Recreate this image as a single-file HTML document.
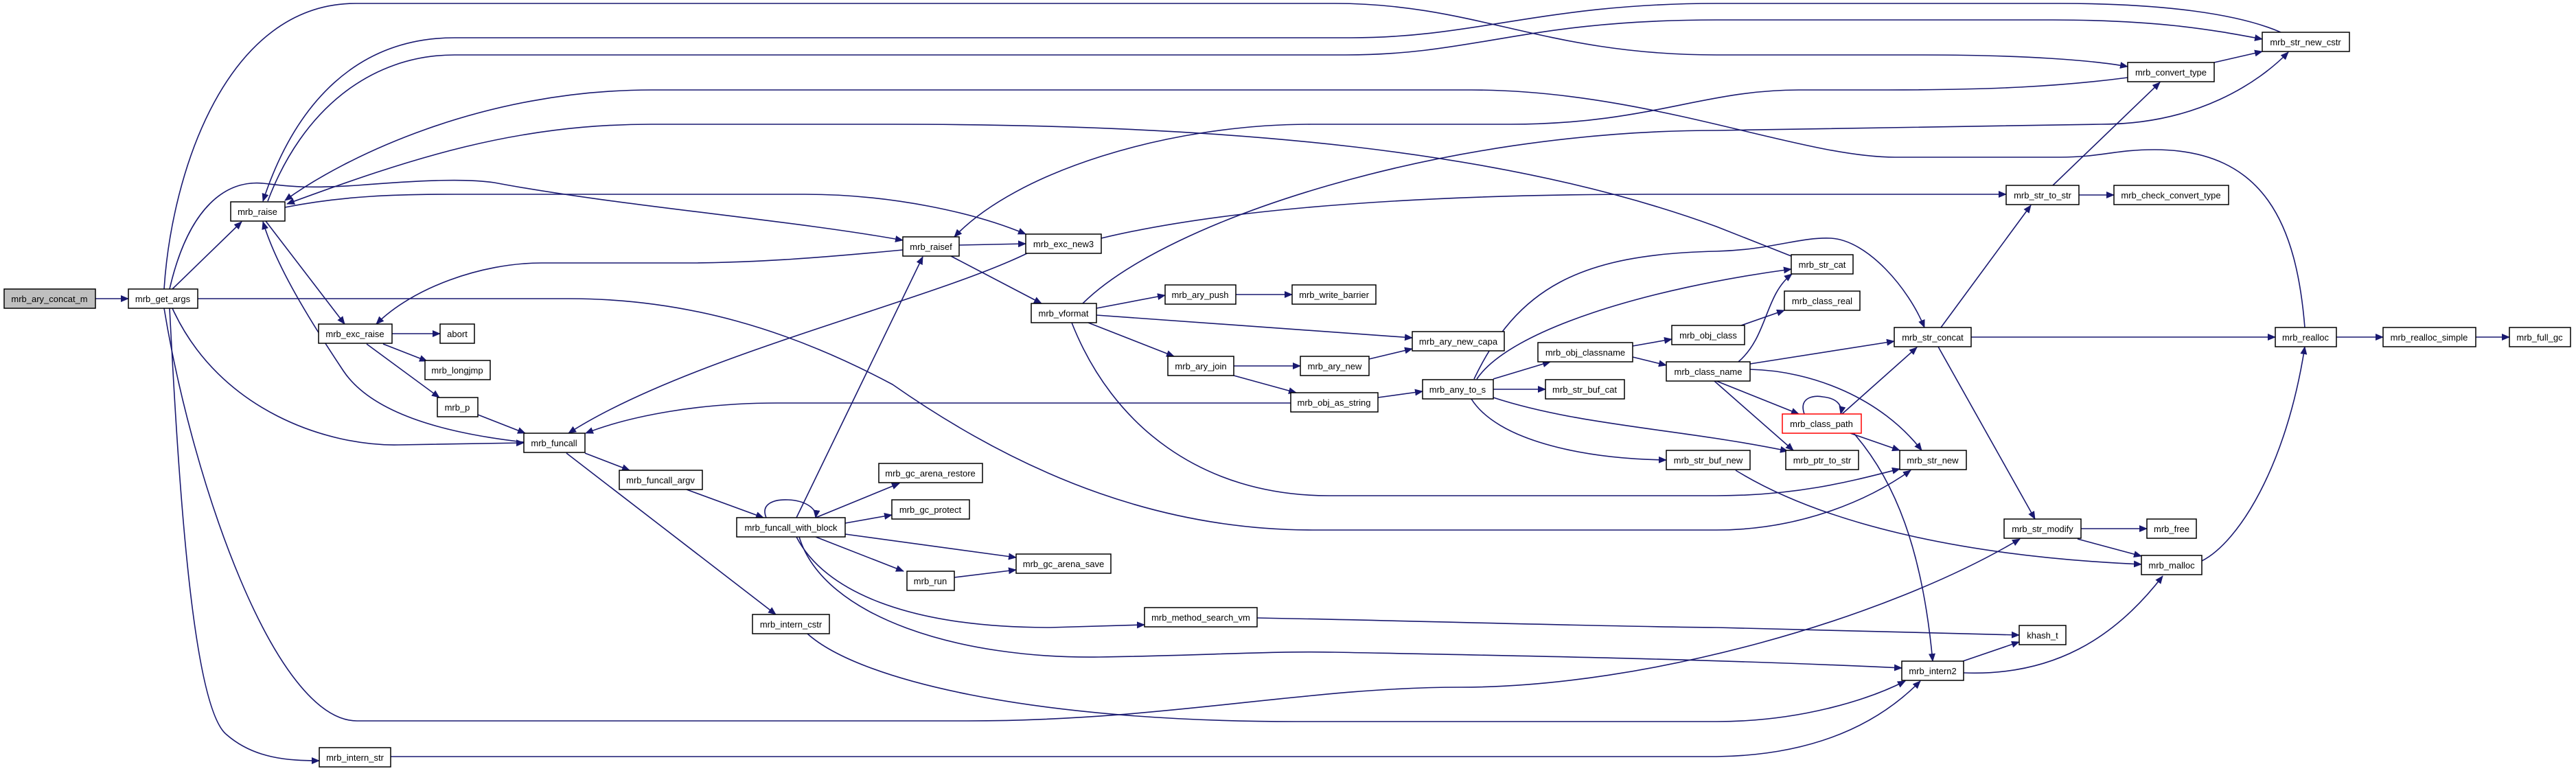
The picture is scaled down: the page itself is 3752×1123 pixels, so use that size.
<!DOCTYPE html>
<html><head><meta charset="utf-8"><style>
html,body{margin:0;padding:0;background:#fff}
svg{display:block}
text{font-family:"Liberation Sans",Arial,sans-serif;font-size:13px;fill:#000}
</style></head><body>
<svg width="3752" height="1123" viewBox="0 0 3752 1123" xmlns="http://www.w3.org/2000/svg">
<defs>
<marker id="a" markerWidth="12" markerHeight="10" refX="11" refY="5" orient="auto" markerUnits="userSpaceOnUse">
<path d="M0,0 L12,5 L0,10 Z" fill="#191970"/>
</marker>
</defs>
<g fill="none" stroke="#191970" stroke-width="1.6" marker-end="url(#a)">
<path d="M139,435 L187,435"/>
<path d="M251,421 L352,323"/>
<path d="M239,421 C250,250 330,5 518,5 L1944,5 C2150,5 2250,80 2500,80 L2800,80 C2950,80 3050,88 3099,97"/>
<path d="M3322,47 C3260,20 3150,5 3000,5 L2500,5 C2250,5 2150,55 1968,55 L662,55 C520,55 430,150 383,293"/>
<path d="M390,293 C440,160 540,80 662,80 L1960,80 C2150,80 2220,29 2500,29 L2990,29 C3150,29 3230,45 3295,57"/>
<path d="M3357,477 C3345,330 3300,218 3138,218 C3080,218 3060,229 3000,229 L2760,229 C2620,229 2400,131 2143,131 L949,131 C700,131 500,230 415,292"/>
<path d="M3099,113 C3000,126 2900,131 2750,131 L2620,131 C2480,131 2400,181 2200,181 L1910,181 C1700,181 1480,250 1390,345"/>
<path d="M2609,373 L2500,330 C2200,220 1800,181 1300,181 L949,181 C750,181 600,230 418,297"/>
<path d="M415,302 C500,285 580,283 662,283 L1172,283 C1300,283 1420,310 1494,341"/>
<path d="M247,421 C275,300 330,262 383,267 C420,271 440,275 520,270 C620,262 680,260 720,266 C900,300 1150,320 1315,350"/>
<path d="M1315,364 C1200,375 1100,383 996,383 L789,383 C700,383 600,420 548,472"/>
<path d="M1496,369 C1350,440 1000,520 828,631"/>
<path d="M1160,754 L1344,374"/>
<path d="M1385,373 L1517,442"/>
<path d="M1397,357 L1494,355"/>
<path d="M1604,347 C1800,300 2100,283 2400,283 L2922,283"/>
<path d="M1577,442 C1700,320 2100,190 2500,190 L3060,181 C3200,181 3290,120 3333,76"/>
<path d="M1597,449 L1697,430"/>
<path d="M1597,459 L2057,492"/>
<path d="M1585,470 L1710,519"/>
<path d="M1561,470 C1620,620 1750,722 1936,722 L2500,722 C2620,722 2700,700 2767,683"/>
<path d="M1800,429 L1882,429"/>
<path d="M1797,533 L1894,533"/>
<path d="M1994,523 L2057,508"/>
<path d="M1797,547 L1888,572"/>
<path d="M1880,587 L1132,587 C1020,587 920,605 853,631"/>
<path d="M2007,579 L2072,570"/>
<path d="M2175,552 L2258,527"/>
<path d="M2175,567 L2251,567"/>
<path d="M2143,581 C2180,640 2300,668 2427,670"/>
<path d="M2175,579 C2300,620 2450,625 2604,657"/>
<path d="M2151,552 C2200,480 2400,420 2609,392"/>
<path d="M2147,552 C2210,420 2300,370 2500,366 C2580,364 2620,345 2667,347 C2720,350 2780,420 2803,477"/>
<path d="M2378,504 L2435,494"/>
<path d="M2378,520 L2427,532"/>
<path d="M2536,474 L2599,452"/>
<path d="M2532,527 C2575,490 2570,430 2610,399"/>
<path d="M2549,530 L2759,497"/>
<path d="M2549,538 C2640,540 2740,580 2799,656"/>
<path d="M2500,555 L2620,603"/>
<path d="M2497,555 L2612,656"/>
<path d="M2683,603 L2792,506"/>
<path d="M2628,603 C2620,580 2640,575 2655,578 C2675,580 2684,590 2681,603"/>
<path d="M2695,631 L2767,656"/>
<path d="M2700,631 C2760,700 2800,800 2815,963"/>
<path d="M2827,477 L2958,299"/>
<path d="M2871,491 L3314,491"/>
<path d="M2823,505 L2964,756"/>
<path d="M2990,270 L3146,120"/>
<path d="M3028,284 L3079,284"/>
<path d="M3225,91 L3295,75"/>
<path d="M3403,491 L3471,491"/>
<path d="M3606,491 L3655,491"/>
<path d="M3207,817 C3260,790 3330,680 3357,505"/>
<path d="M3031,770 L3127,770"/>
<path d="M3026,785 L3119,810"/>
<path d="M2528,685 C2650,760 2850,810 3119,822"/>
<path d="M2859,963 L2941,935"/>
<path d="M2860,980 C2990,985 3080,930 3150,839"/>
<path d="M1831,900 C2100,905 2300,912 2500,914 L2941,925"/>
<path d="M1160,782 C1200,860 1320,914 1529,914 L1667,910"/>
<path d="M1164,782 C1200,900 1400,960 1601,957 C1750,955 1850,948 1944,950 C2200,955 2500,960 2770,973"/>
<path d="M1188,782 L1316,832"/>
<path d="M1231,778 L1480,812"/>
<path d="M1231,762 L1299,750"/>
<path d="M1188,754 L1310,704"/>
<path d="M1116,754 C1108,735 1125,727 1148,728 C1172,729 1190,740 1188,754"/>
<path d="M1390,841 L1480,830"/>
<path d="M1176,923 C1250,990 1500,1051 1888,1051 L2500,1051 C2620,1051 2720,1020 2775,992"/>
<path d="M239,449 C280,700 400,1050 520,1050 L1409,1050 C1700,1050 1900,1001 2127,1001 C2400,1001 2750,900 2942,785"/>
<path d="M247,449 C260,700 280,1030 330,1070 C370,1105 420,1108 465,1108"/>
<path d="M569,1102 L2500,1102 C2650,1100 2740,1050 2797,992"/>
<path d="M251,449 C320,600 480,650 580,648 L763,645"/>
<path d="M763,644 C640,630 540,600 500,540 C440,450 400,380 383,323"/>
<path d="M288,435 L829,435 C1000,435 1150,480 1300,560 C1500,700 1700,772 1912,772 L2500,772 C2620,772 2720,730 2783,685"/>
<path d="M387,322 L502,472"/>
<path d="M571,486 L641,486"/>
<path d="M558,501 L622,526"/>
<path d="M534,501 L640,579"/>
<path d="M696,604 L765,631"/>
<path d="M852,660 L917,685"/>
<path d="M825,660 L1130,895"/>
<path d="M1000,713 L1112,754"/>
</g>
<g stroke="#000" stroke-width="1.5" fill="#fff">
<rect x="6" y="421" width="133" height="28" fill="#bfbfbf"/>
<rect x="187" y="421" width="101" height="28"/>
<rect x="336" y="294" width="79" height="28"/>
<rect x="464" y="472" width="107" height="28"/>
<rect x="641" y="472" width="50" height="28"/>
<rect x="619" y="525" width="95" height="28"/>
<rect x="637" y="579" width="59" height="28"/>
<rect x="763" y="631" width="89" height="28"/>
<rect x="902" y="685" width="121" height="28"/>
<rect x="1073" y="754" width="158" height="28"/>
<rect x="1096" y="895" width="112" height="28"/>
<rect x="465" y="1089" width="104" height="28"/>
<rect x="1315" y="345" width="82" height="28"/>
<rect x="1494" y="341" width="110" height="28"/>
<rect x="1502" y="442" width="95" height="28"/>
<rect x="1697" y="415" width="103" height="28"/>
<rect x="1882" y="415" width="122" height="28"/>
<rect x="2057" y="483" width="134" height="28"/>
<rect x="1701" y="519" width="96" height="28"/>
<rect x="1894" y="519" width="100" height="28"/>
<rect x="2240" y="499" width="138" height="28"/>
<rect x="2435" y="474" width="106" height="28"/>
<rect x="2427" y="527" width="122" height="28"/>
<rect x="2072" y="553" width="103" height="28"/>
<rect x="2251" y="553" width="115" height="28"/>
<rect x="1880" y="572" width="127" height="28"/>
<rect x="1280" y="675" width="151" height="28"/>
<rect x="1299" y="728" width="113" height="28"/>
<rect x="1480" y="807" width="138" height="28"/>
<rect x="1321" y="832" width="69" height="28"/>
<rect x="1667" y="885" width="164" height="28"/>
<rect x="2427" y="656" width="122" height="28"/>
<rect x="3295" y="47" width="127" height="28"/>
<rect x="3099" y="91" width="126" height="28"/>
<rect x="2922" y="270" width="106" height="28"/>
<rect x="3079" y="270" width="167" height="28"/>
<rect x="2609" y="371" width="90" height="28"/>
<rect x="2599" y="424" width="110" height="28"/>
<rect x="2759" y="477" width="112" height="28"/>
<rect x="3314" y="477" width="89" height="28"/>
<rect x="3471" y="477" width="135" height="28"/>
<rect x="3655" y="477" width="89" height="28"/>
<rect x="2596" y="603" width="115" height="28" stroke="#ff0000"/>
<rect x="2601" y="656" width="106" height="28"/>
<rect x="2767" y="656" width="97" height="28"/>
<rect x="2919" y="756" width="112" height="28"/>
<rect x="3127" y="756" width="72" height="28"/>
<rect x="3119" y="809" width="88" height="28"/>
<rect x="2941" y="911" width="68" height="28"/>
<rect x="2770" y="963" width="90" height="28"/>
</g>
<g text-anchor="middle">
<text x="72" y="440">mrb_ary_concat_m</text>
<text x="237" y="440">mrb_get_args</text>
<text x="375" y="313">mrb_raise</text>
<text x="517" y="491">mrb_exc_raise</text>
<text x="666" y="491">abort</text>
<text x="666" y="544">mrb_longjmp</text>
<text x="666" y="598">mrb_p</text>
<text x="807" y="650">mrb_funcall</text>
<text x="962" y="704">mrb_funcall_argv</text>
<text x="1152" y="773">mrb_funcall_with_block</text>
<text x="1152" y="914">mrb_intern_cstr</text>
<text x="517" y="1108">mrb_intern_str</text>
<text x="1356" y="364">mrb_raisef</text>
<text x="1549" y="360">mrb_exc_new3</text>
<text x="1549" y="461">mrb_vformat</text>
<text x="1748" y="434">mrb_ary_push</text>
<text x="1943" y="434">mrb_write_barrier</text>
<text x="2124" y="502">mrb_ary_new_capa</text>
<text x="1749" y="538">mrb_ary_join</text>
<text x="1944" y="538">mrb_ary_new</text>
<text x="2309" y="518">mrb_obj_classname</text>
<text x="2488" y="493">mrb_obj_class</text>
<text x="2488" y="546">mrb_class_name</text>
<text x="2123" y="572">mrb_any_to_s</text>
<text x="2308" y="572">mrb_str_buf_cat</text>
<text x="1943" y="591">mrb_obj_as_string</text>
<text x="1355" y="694">mrb_gc_arena_restore</text>
<text x="1355" y="747">mrb_gc_protect</text>
<text x="1549" y="826">mrb_gc_arena_save</text>
<text x="1355" y="851">mrb_run</text>
<text x="1749" y="904">mrb_method_search_vm</text>
<text x="2488" y="675">mrb_str_buf_new</text>
<text x="3358" y="66">mrb_str_new_cstr</text>
<text x="3162" y="110">mrb_convert_type</text>
<text x="2975" y="289">mrb_str_to_str</text>
<text x="3162" y="289">mrb_check_convert_type</text>
<text x="2654" y="390">mrb_str_cat</text>
<text x="2654" y="443">mrb_class_real</text>
<text x="2815" y="496">mrb_str_concat</text>
<text x="3358" y="496">mrb_realloc</text>
<text x="3538" y="496">mrb_realloc_simple</text>
<text x="3699" y="496">mrb_full_gc</text>
<text x="2653" y="622">mrb_class_path</text>
<text x="2654" y="675">mrb_ptr_to_str</text>
<text x="2815" y="675">mrb_str_new</text>
<text x="2975" y="775">mrb_str_modify</text>
<text x="3163" y="775">mrb_free</text>
<text x="3163" y="828">mrb_malloc</text>
<text x="2975" y="930">khash_t</text>
<text x="2815" y="982">mrb_intern2</text>
</g>
</svg>
</body></html>
